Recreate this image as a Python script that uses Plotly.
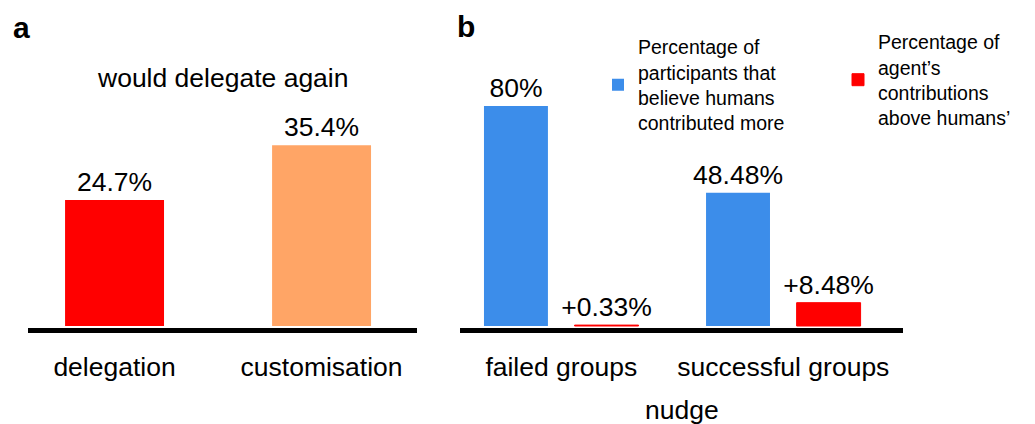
import plotly.graph_objects as go

# ---- data ----
categories_a = ["delegation", "customisation"]
values_a = [24.7, 35.4]
colors_a = ["#FF0000", "#FFA566"]

groups_b = ["failed groups", "successful groups"]
believe_humans = [80, 48.48]
agent_above = [0.33, 8.48]
legend_names = [
    "Percentage of<br>participants that<br>believe humans<br>contributed more",
    "Percentage of<br>agent\u2019s<br>contributions<br>above humans\u2019",
]

FONT = "Liberation Sans, Arial, Helvetica, sans-serif"
# page body has an 8px margin; the figure fills the rest of the window
W, H = 1027, 416
OFF = 8


def px(x):
    return (x - OFF) / W


def py(y):
    return 1 - (y - OFF) / H


VFONT = 26.5

fig = go.Figure()

fig.add_trace(go.Bar(
    x=list(range(len(categories_a))), y=values_a, marker_color=colors_a,
    width=0.478, text=[f"{v}%" for v in values_a], textposition="outside",
    constraintext="none", textfont=dict(size=VFONT, color="black"),
    cliponaxis=False, showlegend=False, xaxis="x", yaxis="y",
    marker_line_width=0,
))
fig.add_trace(go.Bar(
    x=list(range(len(groups_b))), y=believe_humans, name=legend_names[0],
    marker_color="#3C8DEA", width=0.288, offset=-0.348,
    text=[f"{v}%" for v in believe_humans], textposition="outside",
    constraintext="none", textfont=dict(size=VFONT, color="black"),
    cliponaxis=False, xaxis="x2", yaxis="y2", marker_line_width=0,
    legend="legend",
))
fig.add_trace(go.Bar(
    x=list(range(len(groups_b))), y=agent_above, name=legend_names[1],
    marker_color="#FF0000", width=0.288, offset=0.06,
    text=[f"+{v}%" for v in agent_above], textposition="outside",
    constraintext="none", textfont=dict(size=VFONT, color="black"),
    cliponaxis=False, xaxis="x2", yaxis="y2",
    marker_line=dict(color="#FF0000", width=1),
    legend="legend2",
))

ydom = [py(328), py(60)]
axis_common = dict(
    showline=True, linewidth=5, linecolor="black", showgrid=False,
    zeroline=False, ticks="outside", ticklen=11, tickcolor="rgba(0,0,0,0)",
    tickfont=dict(size=VFONT, color="black"), fixedrange=True,
)
legend_common = dict(orientation="v", xanchor="left", yanchor="top",
                     font=dict(size=19.5, color="black"),
                     bgcolor="rgba(0,0,0,0)", valign="middle")

fig.update_layout(
    width=W, height=H, margin=dict(l=0, r=0, t=0, b=0),
    paper_bgcolor="white", plot_bgcolor="white",
    font=dict(family=FONT, color="black"),
    barmode="overlay",
    xaxis=dict(domain=[px(28), px(417)], range=[-0.418, 1.461],
               tickvals=list(range(len(categories_a))), ticktext=categories_a,
               anchor="y", **axis_common),
    yaxis=dict(domain=ydom, range=[-0.39, 52.11], visible=False, anchor="x"),
    xaxis2=dict(domain=[px(460), px(903)], range=[-0.456, 1.539],
                tickvals=list(range(len(groups_b))), ticktext=groups_b,
                anchor="y2", **axis_common),
    yaxis2=dict(domain=ydom, range=[-0.727, 96.73], visible=False, anchor="x2"),
    legend=dict(x=px(598), y=py(27.5), **legend_common),
    legend2=dict(x=px(838), y=py(22.5), **legend_common),
    annotations=[
        dict(text="<b>a</b>", x=px(21.5), y=py(27.5), xref="paper", yref="paper",
             showarrow=False, font=dict(size=30), xanchor="center", yanchor="middle"),
        dict(text="<b>b</b>", x=px(466), y=py(27), xref="paper", yref="paper",
             showarrow=False, font=dict(size=30), xanchor="center", yanchor="middle"),
        dict(text="would delegate again", x=0.5, xref="x domain", y=py(78),
             yref="paper", showarrow=False, font=dict(size=VFONT),
             xanchor="center", yanchor="middle"),
        dict(text="nudge", x=0.5, xref="x2 domain", y=py(410),
             yref="paper", showarrow=False, font=dict(size=VFONT),
             xanchor="center", yanchor="middle"),
    ],
)

fig.write_html("out.html")
